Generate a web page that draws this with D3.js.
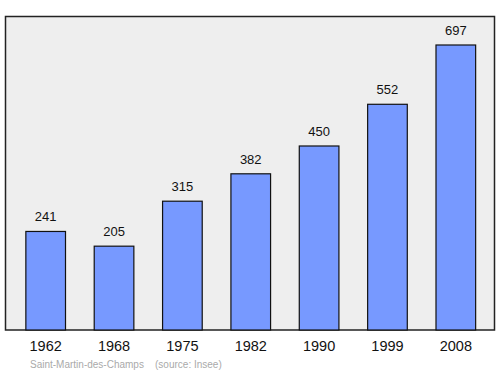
<!DOCTYPE html>
<html><head><meta charset="utf-8">
<script src="https://cdn.jsdelivr.net/npm/d3@7"></script>
<style>body{margin:0;background:#fff}svg{display:block}text{font-family:"Liberation Sans",Arial,sans-serif}</style>
</head><body>
<script>
const years = ["1962","1968","1975","1982","1990","1999","2008"];
const population = [241,205,315,382,450,552,697];
const commune = "Saint-Martin-des-Champs";
const source = "(source: Insee)";

const W = 500, H = 374;
const svg = d3.select("body").append("svg").attr("width", W).attr("height", H);

const panel = {x0: 5.5, x1: 494.5, y0: 16.5, y1: 330};
svg.append("rect").attr("x", panel.x0).attr("y", panel.y0)
  .attr("width", panel.x1 - panel.x0).attr("height", panel.y1 - panel.y0)
  .attr("fill", "#eeeeee").attr("stroke", "#222").attr("stroke-width", 1.5);

const x = d3.scaleBand().domain(years).range([11.5, 490]).paddingInner(0.42).paddingOuter(0.21);
const y = d3.scaleLinear().domain([0, 697]).range([330, 45]);

svg.selectAll("rect.bar").data(population).join("rect").attr("class","bar")
  .attr("x", (d,i) => x(years[i]))
  .attr("width", x.bandwidth())
  .attr("y", d => y(d))
  .attr("height", d => y(0) - y(d))
  .attr("fill", "#7799ff").attr("stroke", "#111").attr("stroke-width", 1.2);

svg.selectAll("text.val").data(population).join("text").attr("class","val")
  .attr("x", (d,i) => x(years[i]) + x.bandwidth()/2)
  .attr("y", d => y(d) - 10)
  .attr("text-anchor","middle").attr("font-size", 13).attr("fill","#111")
  .text(d => d);

const xAxis = svg.append("g").attr("transform", `translate(0,${panel.y1})`)
  .call(d3.axisBottom(x).tickSize(0).tickPadding(11));
xAxis.select(".domain").remove();
xAxis.selectAll("text").attr("font-size", 14.5).attr("fill","#111")
  .style("font-family", '"Liberation Sans",Arial,sans-serif');

svg.append("text").attr("x", 30).attr("y", 368).attr("font-size", 10).attr("fill","#aaaaaa")
  .attr("xml:space","preserve").text(commune + "    " + source);
</script>
</body></html>
